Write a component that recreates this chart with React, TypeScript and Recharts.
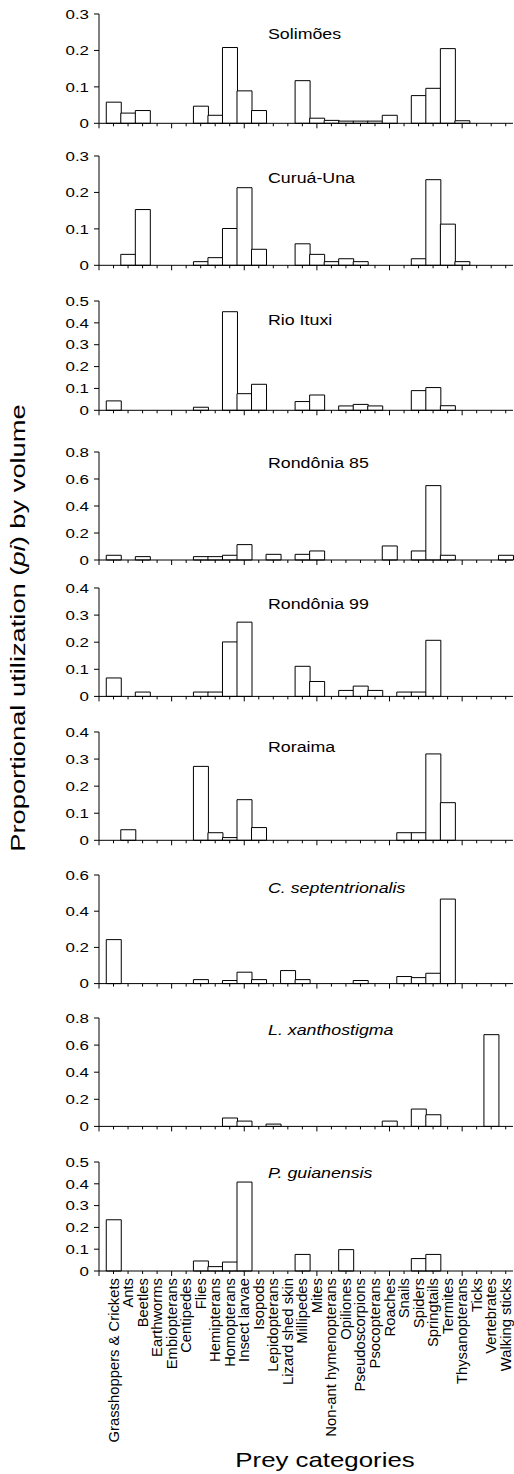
import React from 'react';
import { BarChart, Bar, XAxis, YAxis } from 'recharts';

const categories = [
  'Grasshoppers & Crickets', 'Ants', 'Beetles', 'Earthworms', 'Embiopterans', 'Centipedes', 'Flies',
  'Hemipterans', 'Homopterans', 'Insect larvae', 'Isopods', 'Lepidopterans', 'Lizard shed skin',
  'Millipedes', 'Mites', 'Non-ant hymenopterans', 'Opiliones', 'Pseudoscorpions', 'Psocopterans',
  'Roaches', 'Snails', 'Spiders', 'Springtails', 'Termites', 'Thysanopterans', 'Ticks', 'Vertebrates',
  'Walking sticks',
];

const solimoes = [0.058, 0.028, 0.035, 0, 0, 0, 0.047, 0.022, 0.208, 0.089, 0.035, 0, 0, 0.117, 0.014, 0.008, 0.006, 0.006, 0.006, 0.022, 0, 0.076, 0.096, 0.205, 0.007, 0, 0, 0];
const curuaUna = [0, 0.030, 0.153, 0, 0, 0, 0.010, 0.021, 0.101, 0.213, 0.044, 0, 0, 0.059, 0.030, 0.010, 0.018, 0.010, 0, 0, 0, 0.018, 0.235, 0.113, 0.010, 0, 0, 0];
const rioItuxi = [0.043, 0, 0, 0, 0, 0, 0.014, 0, 0.451, 0.076, 0.119, 0, 0, 0.040, 0.070, 0, 0.020, 0.027, 0.020, 0, 0, 0.090, 0.104, 0.021, 0, 0, 0, 0];
const rondonia85 = [0.035, 0, 0.025, 0, 0, 0, 0.025, 0.025, 0.035, 0.114, 0, 0.042, 0, 0.042, 0.067, 0, 0, 0, 0, 0.104, 0, 0.067, 0.551, 0.035, 0, 0, 0, 0.035];
const rondonia99 = [0.068, 0, 0.016, 0, 0, 0, 0.016, 0.016, 0.201, 0.274, 0, 0, 0, 0.111, 0.055, 0, 0.022, 0.038, 0.022, 0, 0.016, 0.016, 0.207, 0, 0, 0, 0, 0];
const roraima = [0, 0.039, 0, 0, 0, 0, 0.273, 0.028, 0.010, 0.150, 0.047, 0, 0, 0, 0, 0, 0, 0, 0, 0, 0.028, 0.028, 0.319, 0.139, 0, 0, 0, 0];
const cSeptentrionalis = [0.243, 0, 0, 0, 0, 0, 0.022, 0, 0.017, 0.063, 0.022, 0, 0.072, 0.022, 0, 0, 0, 0.017, 0, 0, 0.039, 0.033, 0.057, 0.467, 0, 0, 0, 0];
const lXanthostigma = [0, 0, 0, 0, 0, 0, 0, 0, 0.062, 0.039, 0, 0.017, 0, 0, 0, 0, 0, 0, 0, 0.039, 0, 0.128, 0.086, 0, 0, 0, 0.677, 0];
const pGuianensis = [0.235, 0, 0, 0, 0, 0, 0.046, 0.020, 0.041, 0.408, 0, 0, 0, 0.076, 0, 0, 0.098, 0, 0, 0, 0, 0.057, 0.076, 0, 0, 0, 0, 0];

const ticks03 = [0, 0.1, 0.2, 0.3];
const ticks04 = [0, 0.1, 0.2, 0.3, 0.4];
const ticks05 = [0, 0.1, 0.2, 0.3, 0.4, 0.5];
const ticks06 = [0, 0.2, 0.4, 0.6];
const ticks08 = [0, 0.2, 0.4, 0.6, 0.8];

const panelNames = ['Solimões', 'Curuá-Una', 'Rio Ituxi', 'Rondônia 85', 'Rondônia 99', 'Roraima', 'C. septentrionalis', 'L. xanthostigma', 'P. guianensis'];
const panelValues = [solimoes, curuaUna, rioItuxi, rondonia85, rondonia99, roraima, cSeptentrionalis, lXanthostigma, pGuianensis];
const panelTicks = [ticks03, ticks03, ticks05, ticks08, ticks04, ticks04, ticks06, ticks08, ticks05];
const panelItalic = [false, false, false, false, false, false, true, true, true];

// layout (page pixel positions): plot top, plot bottom, title baseline
const layout = [
  { top: 14, bottom: 123.3, title: 39.3 },
  { top: 155.7, bottom: 265, title: 182.7 },
  { top: 300.7, bottom: 410, title: 325 },
  { top: 452, bottom: 560, title: 467.7 },
  { top: 588.3, bottom: 696.7, title: 609.3 },
  { top: 731.7, bottom: 840, title: 751.7 },
  { top: 874.7, bottom: 983.3, title: 893.3 },
  { top: 1018.3, bottom: 1126.7, title: 1035 },
  { top: 1161.7, bottom: 1270.7, title: 1178.3 },
];

const FONT = '"Liberation Sans", Arial, Helvetica, sans-serif';
const W = 514;
const H = 1474;
const Y_AXIS_W = 99;
const RIGHT_M = 1;
const BW = (W - Y_AXIS_W - RIGHT_M) / 28.5;
const TOP_M = 10;
const SX = 1.27;

const XTick = (props: any) => {
  const { x, y, index, payload, showLabel } = props;
  const k = index + 1;
  const len = k % 5 === 0 ? 5 : 3;
  return (
    <g>
      {index === 0 && <line x1={x - BW} x2={x - BW} y1={y} y2={y + 5} stroke="#000" strokeWidth={1} />}
      <line x1={x} x2={x} y1={y} y2={y + len} stroke="#000" strokeWidth={1} />
      {showLabel && (
        <text
          transform={`rotate(-90 ${x} ${y + 7})`}
          x={x}
          y={y + 7}
          textAnchor="end"
          dominantBaseline="central"
          fontSize={14.8}
          fontFamily={FONT}
          fill="#000"
        >
          {payload.value}
        </text>
      )}
    </g>
  );
};

const fmt = (v: number) => (v === 0 ? '0' : v.toFixed(1));

const YTick = (props: any) => {
  const { x, y, payload } = props;
  return (
    <text
      transform={`translate(${x},${y}) scale(1.3,1)`}
      x={0}
      y={0}
      textAnchor="end"
      dominantBaseline="central"
      fontSize={13}
      fontFamily={FONT}
      fill="#000"
    >
      {fmt(payload.value)}
    </text>
  );
};

function Panel({ idx }: { idx: number }) {
  const values = panelValues[idx];
  const data = categories.map((c, i) => ({ cat: c, v: values[i] }));
  const ticks = panelTicks[idx];
  const { top, bottom } = layout[idx];
  const last = idx === panelNames.length - 1;
  const axisH = last ? 190 : 8;
  const plotH = bottom - top;
  const chartH = TOP_M + plotH + axisH;
  return (
    <div style={{ position: 'absolute', left: 0, top: top - TOP_M, width: W, height: chartH }}>
      <BarChart
        width={W}
        height={chartH}
        data={data}
        margin={{ top: TOP_M, right: RIGHT_M, bottom: 0, left: 0 }}
        barCategoryGap={0}
        barGap={0}
      >
        <XAxis
          dataKey="cat"
          type="category"
          interval={0}
          height={axisH}
          padding={{ left: BW / 2, right: 0 }}
          axisLine={{ stroke: '#000', strokeWidth: 1 }}
          tickLine={false}
          tickSize={0}
          tickMargin={0}
          tick={(p: any) => <XTick {...p} showLabel={last} />}
        />
        <YAxis
          type="number"
          domain={[0, ticks[ticks.length - 1]]}
          ticks={ticks}
          interval={0}
          width={Y_AXIS_W}
          axisLine={{ stroke: '#000', strokeWidth: 1 }}
          tickLine={{ stroke: '#000', strokeWidth: 1 }}
          tickSize={5}
          tickMargin={5}
          tick={(p: any) => <YTick {...p} />}
        />
        <Bar dataKey="v" fill="#fff" stroke="#000" strokeWidth={1} isAnimationActive={false} />
      </BarChart>
    </div>
  );
}

export default function App() {
  return (
    <div style={{ position: 'absolute', left: 0, top: 0, width: W, height: H, background: '#fff' }}>
      {panelNames.map((_, i) => (
        <Panel key={i} idx={i} />
      ))}
      <svg
        width={W}
        height={H}
        style={{ position: 'absolute', left: 0, top: 0, pointerEvents: 'none' }}
      >
        {panelNames.map((name, i) => (
          <text
            key={name}
            transform={`translate(268,${layout[i].title}) scale(${SX},1)`}
            x={0}
            y={0}
            fontSize={14}
            fontFamily={FONT}
            fontStyle={panelItalic[i] ? 'italic' : 'normal'}
            fill="#000"
          >
            {name}
          </text>
        ))}
        <text
          transform="translate(25,628) rotate(-90) scale(1.3,1)"
          x={0}
          y={0}
          textAnchor="middle"
          fontSize={21}
          fontFamily={FONT}
          fill="#000"
        >
          Proportional utilization (<tspan fontStyle="italic">pi</tspan>) by volume
        </text>
        <text
          transform={`translate(325,1466.7) scale(1.23,1)`}
          x={0}
          y={0}
          textAnchor="middle"
          fontSize={21}
          fontFamily={FONT}
          fill="#000"
        >
          Prey categories
        </text>
      </svg>
    </div>
  );
}
